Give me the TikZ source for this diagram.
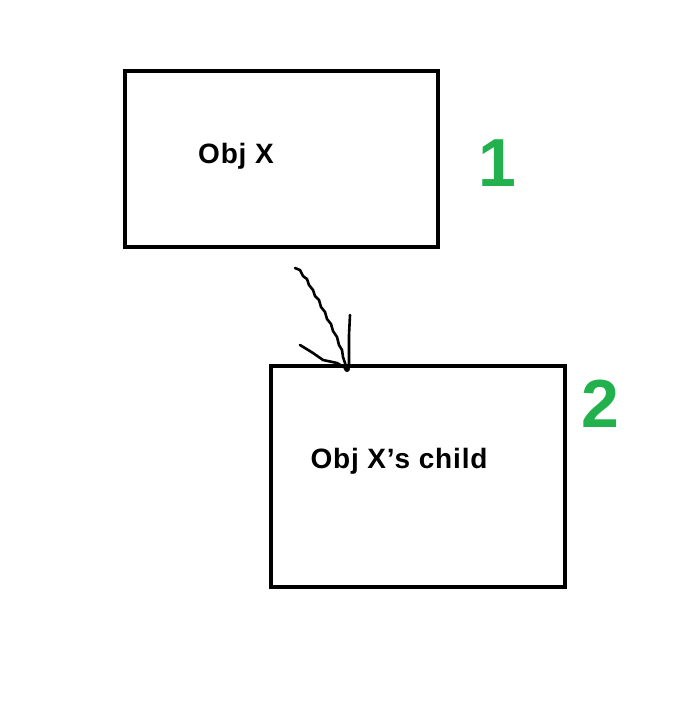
\documentclass[tikz,border=0pt]{standalone}
\usepackage{fontspec}
\setmainfont{Liberation Sans}
\newfontfamily\objfont{Liberation Sans}[LetterSpace=3]
\definecolor{paintgreen}{RGB}{34,177,76}
\begin{document}
\begin{tikzpicture}[x=1pt,y=-1pt,
  objbox/.style={draw=black,line width=4pt,inner sep=0pt},
  objlabel/.style={font=\objfont\bfseries\fontsize{28}{32}\selectfont,inner sep=0pt,anchor=center},
  numlabel/.style={font=\bfseries\fontsize{68}{72}\selectfont,text=paintgreen,inner sep=0pt,anchor=center},
  hand/.style={line width=2.6pt,line cap=round,line join=round}]
\useasboundingbox (0,0) rectangle (684,716);
\fill[white] (0,0) rectangle (684,716);
\node[objbox,minimum width=313pt,minimum height=176pt] (box1) at (281.5,159) {};
\node[objbox,minimum width=294pt,minimum height=221pt] (box2) at (418,476.5) {};
\node[objlabel] (t1) at (236,156) {Obj X};
\node[objlabel] (t2) at (399,461) {Obj X’s child};
\node[numlabel] (n1) at (497,163) {1};
\node[numlabel] (n2) at (600,404) {2};
\coordinate (tail) at (295,268);
\coordinate (tip) at (347,369);
\coordinate (lbarb) at (300,345);
\coordinate (rbarb) at (350,315);
\draw[hand] (tail) -- (300,270) -- (303,276) -- (307,279) -- (309,285) -- (313,290) -- (315,296) -- (319,300) -- (321,307) -- (325,312) -- (327,319) -- (331,324) -- (333,331) -- (337,337) -- (339,345) -- (342,350) -- (343,357) -- (tip);
\draw[hand] (lbarb) -- (313,353) -- (323,360) -- (337,363) -- (tip);
\draw[hand] (rbarb) -- (349,335) -- (349,366);
\fill (tip) circle (3pt);
\end{tikzpicture}
\end{document}
